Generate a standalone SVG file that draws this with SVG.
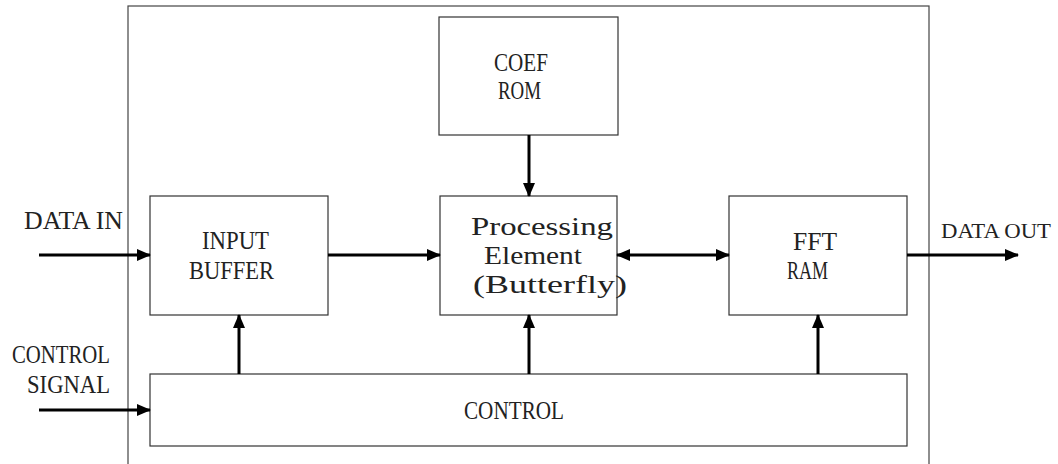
<svg xmlns="http://www.w3.org/2000/svg" width="1058" height="464" viewBox="0 0 1058 464">
<style>
.box{fill:#fff;stroke:#333;stroke-width:1.2}
.outer{fill:none;stroke:#444;stroke-width:1.2}
.t{font-family:"Liberation Serif",serif;font-size:25px;fill:#222}
.c{stroke:#000;stroke-width:3;fill:none}
</style>
<defs>
<marker id="ah" markerUnits="userSpaceOnUse" markerWidth="14" markerHeight="12" refX="13" refY="6" orient="auto-start-reverse">
<path d="M0,0 L14,6 L0,12 Z" fill="#000"/>
</marker>
</defs>
<rect class="outer" x="128" y="6" width="801" height="470"/>
<g id="coef">
<rect class="box" x="439" y="17" width="179" height="118"/>
<text class="t" x="494" y="71" textLength="54" lengthAdjust="spacingAndGlyphs">COEF</text>
<text class="t" x="498" y="99" textLength="43" lengthAdjust="spacingAndGlyphs">ROM</text>
</g>
<g id="input">
<rect class="box" x="150" y="196" width="178" height="119"/>
<text class="t" x="202" y="249" textLength="67" lengthAdjust="spacingAndGlyphs">INPUT</text>
<text class="t" x="189" y="279" textLength="85" lengthAdjust="spacingAndGlyphs">BUFFER</text>
</g>
<g id="pe">
<rect class="box" x="440" y="196" width="177" height="119"/>
<text class="t" x="471" y="235" textLength="142" lengthAdjust="spacingAndGlyphs">Processing</text>
<text class="t" x="484" y="264" textLength="98" lengthAdjust="spacingAndGlyphs">Element</text>
<text class="t" x="473" y="293" textLength="154" lengthAdjust="spacingAndGlyphs">(Butterfly)</text>
</g>
<g id="fft">
<rect class="box" x="729" y="196" width="178" height="119"/>
<text class="t" x="793" y="250" textLength="44" lengthAdjust="spacingAndGlyphs">FFT</text>
<text class="t" x="787" y="279" textLength="41" lengthAdjust="spacingAndGlyphs">RAM</text>
</g>
<g id="control">
<rect class="box" x="150" y="374" width="757" height="72"/>
<text class="t" x="464" y="419" textLength="100" lengthAdjust="spacingAndGlyphs">CONTROL</text>
</g>
<g id="labels">
<text class="t" x="24" y="229" textLength="99" lengthAdjust="spacingAndGlyphs">DATA IN</text>
<text class="t" x="941" y="238" style="font-size:22px" textLength="110" lengthAdjust="spacingAndGlyphs">DATA OUT</text>
<text class="t" x="12" y="363" textLength="98" lengthAdjust="spacingAndGlyphs">CONTROL</text>
<text class="t" x="27" y="393" textLength="83" lengthAdjust="spacingAndGlyphs">SIGNAL</text>
</g>
<g id="connectors">
<line class="c" x1="39" y1="255" x2="150" y2="255" marker-end="url(#ah)"/>
<line class="c" x1="328" y1="255" x2="440" y2="255" marker-end="url(#ah)"/>
<line class="c" x1="617" y1="255" x2="729" y2="255" marker-start="url(#ah)" marker-end="url(#ah)"/>
<line class="c" x1="907" y1="255" x2="1018" y2="255" marker-end="url(#ah)"/>
<line class="c" x1="39" y1="410" x2="150" y2="410" marker-end="url(#ah)"/>
<line class="c" x1="529" y1="135" x2="529" y2="196" marker-end="url(#ah)"/>
<line class="c" x1="239" y1="374" x2="239" y2="315" marker-end="url(#ah)"/>
<line class="c" x1="529" y1="374" x2="529" y2="315" marker-end="url(#ah)"/>
<line class="c" x1="818" y1="374" x2="818" y2="315" marker-end="url(#ah)"/>
</g>
</svg>
